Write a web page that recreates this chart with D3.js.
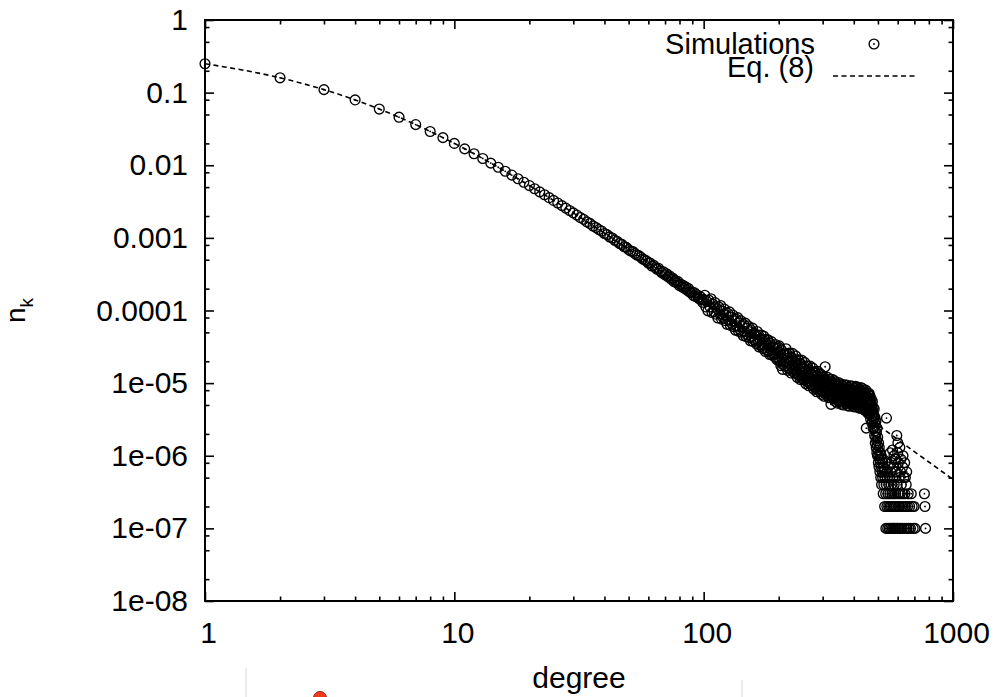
<!DOCTYPE html>
<html>
<head>
<meta charset="utf-8">
<script src="https://cdn.jsdelivr.net/npm/d3@7"></script>
<style>
  body { margin: 0; background: #fff; }
  svg { display: block; }
  text { font-family: "Liberation Sans", Arial, Helvetica, sans-serif; }
</style>
</head>
<body>
<div id="chart"></div>
<script>
// Degree distribution n_k: simulations vs Eq. (8), log-log

const width = 995, height = 697;
const margin = { top: 20, right: 42, bottom: 96, left: 205 };

// simulated n_k, one value per degree starting at k = 1
const simStartDegree = 1;
const simShare = [
  0.250, 0.160, 0.110, 0.0794, 0.0594, 0.0459, 0.0363, 0.0292, 0.0240, 0.0200,
  0.0168, 0.0144, 0.0124, 0.0107, 0.00938, 0.00826, 0.00732, 0.00652, 0.00584, 0.00525,
  0.00474, 0.00430, 0.00392, 0.00358, 0.00328, 0.00302, 0.00278, 0.00257, 0.00238, 0.00221,
  0.00206, 0.00191, 0.00180, 0.00166, 0.00158, 0.00146, 0.00139, 0.00130, 0.00124, 0.00115,
  0.00111, 0.00103, 0.000995, 0.000925, 0.000895, 0.000835, 0.000812, 0.000755, 0.000740, 0.000688,
  6.6e-4, 6.5e-4, 6.1e-4, 5.8e-4, 5.7e-4, 5.4e-4, 5.1e-4, 5.0e-4, 4.8e-4, 4.5e-4,
  4.5e-4, 4.1e-4, 4.2e-4, 3.9e-4, 3.7e-4, 3.8e-4, 3.5e-4, 3.3e-4, 3.4e-4, 3.1e-4,
  3.2e-4, 2.9e-4, 3.0e-4, 2.7e-4, 2.8e-4, 2.5e-4, 2.6e-4, 2.4e-4, 2.5e-4, 2.2e-4,
  2.3e-4, 2.1e-4, 2.2e-4, 2.0e-4, 2.1e-4, 1.9e-4, 2.0e-4, 1.8e-4, 1.75e-4, 1.8e-4,
  1.6e-4, 1.75e-4, 1.55e-4, 1.65e-4, 1.5e-4, 1.45e-4, 1.55e-4, 1.4e-4, 1.3e-4, 1.42e-4,
  1.62e-4, 1.12e-4, 1.33e-4, 9.9e-5, 1.39e-4, 1.12e-4, 1.45e-4, 9.4e-5, 1.22e-4, 9.7e-5,
  1.29e-4, 8.9e-5, 1.06e-4, 7.9e-5, 1.12e-4, 9.0e-5, 1.17e-4, 7.6e-5, 9.8e-5, 7.9e-5,
  1.05e-4, 7.25e-5, 8.67e-5, 6.48e-5, 9.14e-5, 7.41e-5, 9.56e-5, 6.23e-5, 8.1e-5, 6.5e-5,
  8.65e-5, 5.99e-5, 7.18e-5, 5.38e-5, 7.59e-5, 6.16e-5, 7.96e-5, 5.19e-5, 6.75e-5, 5.43e-5,
  7.23e-5, 5.01e-5, 6.03e-5, 4.51e-5, 6.38e-5, 5.18e-5, 6.7e-5, 4.37e-5, 5.71e-5, 4.59e-5,
  6.12e-5, 4.25e-5, 5.1e-5, 3.83e-5, 5.42e-5, 4.41e-5, 5.71e-5, 3.74e-5, 4.87e-5, 3.92e-5,
  3.87e-5, 4.65e-5, 3.46e-5, 5.14e-5, 3.85e-5, 4.59e-5, 3.14e-5, 4.06e-5, 3.29e-5, 4.59e-5,
  3.34e-5, 4.03e-5, 3.0e-5, 4.45e-5, 3.33e-5, 3.98e-5, 2.73e-5, 3.53e-5, 2.86e-5, 3.99e-5,
  3.94e-5, 2.74e-5, 3.3e-5, 2.48e-5, 3.52e-5, 2.87e-5, 3.73e-5, 2.44e-5, 3.19e-5, 2.57e-5,
  2.54e-5, 3.07e-5, 2.28e-5, 3.4e-5, 2.55e-5, 3.05e-5, 2.1e-5, 2.72e-5, 2.2e-5, 3.09e-5,
  3.25e-5, 1.98e-5, 2.64e-5, 1.74e-5, 2.87e-5, 2.19e-5, 1.55e-5, 1.8e-5, 2.55e-5, 1.94e-5,
  1.92e-5, 2.46e-5, 1.7e-5, 2.97e-5, 1.98e-5, 2.52e-5, 1.5e-5, 2.21e-5, 1.62e-5, 2.6e-5,
  2.57e-5, 1.57e-5, 2.1e-5, 1.38e-5, 2.28e-5, 1.75e-5, 2.57e-5, 1.44e-5, 2.04e-5, 1.55e-5,
  1.53e-5, 1.97e-5, 1.36e-5, 2.37e-5, 1.58e-5, 2.03e-5, 1.2e-5, 1.78e-5, 1.3e-5, 2.1e-5,
  2.08e-5, 1.26e-5, 1.69e-5, 1.12e-5, 1.84e-5, 1.41e-5, 2.08e-5, 1.16e-5, 1.65e-5, 1.26e-5,
  1.24e-5, 1.6e-5, 1.1e-5, 1.93e-5, 1.29e-5, 1.65e-5, 9.8e-6, 1.46e-5, 1.07e-5, 1.73e-5,
  1.71e-5, 1.04e-5, 1.39e-5, 9.2e-6, 1.52e-5, 1.17e-5, 1.72e-5, 9.6e-6, 1.37e-5, 1.04e-5,
  1.03e-5, 1.33e-5, 9.2e-6, 1.61e-5, 1.08e-5, 1.38e-5, 8.2e-6, 1.22e-5, 8.9e-6, 1.44e-5,
  1.37e-5, 8.4e-6, 1.13e-5, 7.6e-6, 1.26e-5, 9.8e-6, 1.45e-5, 8.2e-6, 1.18e-5, 9.0e-6,
  8.3e-6, 1.09e-5, 7.6e-6, 1.34e-5, 9.0e-6, 1.16e-5, 7.0e-6, 1.05e-5, 7.8e-6, 1.26e-5,
  1.2e-5, 7.4e-6, 9.9e-6, 6.6e-6, 1.1e-5, 8.6e-6, 1.68e-5, 7.2e-6, 1.03e-5, 7.9e-6,
  7.5e-6, 9.7e-6, 6.8e-6, 1.2e-5, 8.1e-6, 1.04e-5, 6.3e-6, 9.4e-6, 7.0e-6, 1.13e-5,
  1.07e-5, 6.6e-6, 8.9e-6, 5.1e-6, 9.8e-6, 7.6e-6, 1.13e-5, 6.4e-6, 9.2e-6, 7.1e-6,
  6.7e-6, 8.7e-6, 6.1e-6, 1.08e-5, 7.3e-6, 9.4e-6, 5.6e-6, 8.4e-6, 6.2e-6, 1.01e-5,
  9.6e-6, 5.9e-6, 8.0e-6, 5.3e-6, 8.9e-6, 6.9e-6, 1.02e-5, 5.8e-6, 8.3e-6, 6.4e-6,
  6.1e-6, 8.0e-6, 5.5e-6, 9.8e-6, 6.6e-6, 8.5e-6, 5.1e-6, 7.7e-6, 5.7e-6, 9.2e-6,
  9.0e-6, 5.5e-6, 7.5e-6, 5.0e-6, 8.3e-6, 6.4e-6, 9.5e-6, 5.4e-6, 7.7e-6, 5.9e-6,
  5.8e-6, 7.6e-6, 5.3e-6, 9.4e-6, 6.3e-6, 8.2e-6, 4.9e-6, 7.3e-6, 5.4e-6, 8.8e-6,
  8.7e-6, 5.4e-6, 7.2e-6, 4.8e-6, 8.0e-6, 6.2e-6, 9.2e-6, 5.2e-6, 7.5e-6, 5.8e-6,
  5.7e-6, 7.4e-6, 5.1e-6, 9.1e-6, 6.1e-6, 7.9e-6, 4.8e-6, 7.1e-6, 5.3e-6, 8.6e-6,
  8.5e-6, 5.2e-6, 7.0e-6, 4.7e-6, 7.8e-6, 6.0e-6, 9.0e-6, 5.1e-6, 7.3e-6, 5.6e-6,
  5.5e-6, 7.2e-6, 5.0e-6, 8.8e-6, 6.0e-6, 7.7e-6, 4.6e-6, 6.9e-6, 5.1e-6, 8.3e-6,
  8.2e-6, 5.0e-6, 6.8e-6, 4.5e-6, 7.6e-6, 5.9e-6, 8.7e-6, 4.9e-6, 7.1e-6, 5.4e-6,
  5.2e-6, 6.8e-6, 4.8e-6, 8.4e-6, 5.7e-6, 7.3e-6, 4.4e-6, 6.6e-6, 4.9e-6, 7.9e-6,
  7.5e-6, 4.6e-6, 6.3e-6, 4.2e-6, 7.0e-6, 5.4e-6, 8.0e-6, 4.5e-6, 2.4e-6, 5.0e-6,
  4.6e-6, 5.9e-6, 4.1e-6, 7.3e-6, 4.9e-6, 6.4e-6, 3.8e-6, 5.7e-6, 4.2e-6, 6.9e-6,
  7.2e-6, 4.5e-6, 5.8e-6, 3.8e-6, 6.6e-6, 5.0e-6, 3.2e-6, 5.5e-6, 4.2e-6, 6.0e-6,
  3.5e-6, 5.0e-6, 2.8e-6, 4.4e-6, 5.6e-6, 3.0e-6, 4.0e-6, 2.4e-6, 4.6e-6, 3.3e-6
];

// sparse tail of the simulation (degrees with non-zero counts)
const tailDegree = [
  481, 482, 483, 484, 485, 486, 487, 488, 489, 490, 491, 492, 493, 494, 495, 496, 497, 498, 499, 500,
  502, 503, 504, 505, 506, 508, 509, 510, 511, 513, 514, 516, 517, 519, 520, 522, 523, 525, 527, 528,
  530, 532, 533, 535, 537, 538, 540, 541, 542, 543, 545, 547, 548, 550, 552, 553, 555, 557, 558, 560,
  562, 563, 565, 567, 569, 571, 573, 575, 577, 579, 581, 583, 585, 587, 589, 591, 593, 595, 597, 599,
  601, 603, 605, 607, 609, 611, 612, 614, 617, 620, 623, 626, 629, 632, 635, 638, 641, 645, 649, 653,
  657, 661, 665, 670, 675, 680, 686, 692, 698, 704, 768, 772, 776,
  566, 578, 584, 594, 604, 616, 628, 644, 652, 560, 572, 580, 590, 600, 618, 630, 640
];
const tailShare = [
  3.6e-6, 2.4e-6, 4.4e-6, 2.9e-6, 1.9e-6, 3.4e-6, 2.2e-6, 1.5e-6, 2.7e-6, 1.8e-6, 3.0e-6, 1.3e-6, 2.1e-6, 1.6e-6, 1.1e-6, 2.4e-6, 1.4e-6, 1.0e-6, 1.8e-6, 1.2e-6,
  8e-7, 1.5e-6, 1.0e-6, 7e-7, 1.3e-6, 9e-7, 6e-7, 1.1e-6, 8e-7, 5e-7, 1.0e-6, 7e-7, 4e-7, 9e-7, 6e-7, 5e-7, 8e-7, 3e-7, 7e-7, 4e-7,
  6e-7, 2e-7, 5e-7, 8e-7, 3e-7, 1e-7, 4e-7, 3.3e-6, 6e-7, 2e-7, 5e-7, 1e-7, 3e-7, 7e-7, 2e-7, 4e-7, 1e-7, 5e-7, 3e-7, 2e-7,
  6e-7, 1e-7, 4e-7, 2e-7, 3e-7, 1e-7, 5e-7, 2e-7, 1e-7, 3e-7, 4e-7, 1e-7, 2e-7, 6e-7, 3e-7, 1e-7, 2e-7, 1.9e-6, 4e-7, 1e-7,
  1.5e-6, 3e-7, 2e-7, 1e-7, 5e-7, 2e-7, 1.3e-6, 3e-7, 1e-7, 4e-7, 2e-7, 1e-7, 3e-7, 2e-7, 5e-7, 1e-7, 3e-7, 2e-7, 4e-7, 1e-7,
  2e-7, 3e-7, 1e-7, 2e-7, 1e-7, 3e-7, 2e-7, 1e-7, 2e-7, 1e-7, 3e-7, 2e-7, 1e-7,
  8e-7, 7e-7, 9e-7, 6e-7, 8e-7, 6e-7, 7e-7, 5e-7, 6e-7, 1.1e-6, 1.2e-6, 1.0e-6, 9e-7, 1.1e-6, 9e-7, 1.0e-6, 8e-7
];

// Eq. (8)
const eqDegree = [1, 2, 3, 4, 5, 6, 7, 8, 9, 10, 12, 15, 20, 25, 30, 40, 50, 60, 70, 80,
  100, 120, 150, 200, 250, 300, 400, 500, 600, 700, 800, 1000];
const eqShare = [0.250, 0.160, 0.110, 0.0794, 0.0594, 0.0459, 0.0363, 0.0292, 0.0240, 0.0200,
  0.0144, 0.00938, 0.00525, 0.00328, 0.00221, 0.00116, 0.000697, 0.000457, 0.000318, 0.000232,
  1.36e-4, 8.76e-5, 5.10e-5, 2.53e-5, 1.46e-5, 9.33e-6, 4.58e-6, 2.64e-6, 1.68e-6, 1.14e-6, 8.2e-7, 4.7e-7];

// axes
const xTicks = [1, 10, 100, 1000];
const xTickLabels = ["1", "10", "100", "1000"];
const xMinorSteps = [2, 3, 4, 5, 6, 7, 8, 9];
const yTicks = [1e-8, 1e-7, 1e-6, 1e-5, 1e-4, 1e-3, 1e-2, 1e-1, 1];
const yTickLabels = ["1e-08", "1e-07", "1e-06", "1e-05", "0.0001", "0.001", "0.01", "0.1", "1"];
const yMinorSteps = [2, 5, 8];

const svg = d3.select("#chart")
  .append("svg")
  .attr("width", width)
  .attr("height", height)
  .attr("viewBox", [0, 0, width, height]);

svg.append("rect").attr("width", width).attr("height", height).attr("fill", "#fff");

const x = d3.scaleLog()
  .domain([1, 1000])
  .range([margin.left, width - margin.right]);

const y = d3.scaleLog()
  .domain([1e-8, 1])
  .range([height - margin.bottom, margin.top]);

const x0 = x.range()[0], x1 = x.range()[1];
const yTop = y.range()[1], yBot = y.range()[0];

// join the two simulation pieces
const sim = simShare.map((v, i) => ({ k: simStartDegree + i, n: v }))
  .concat(tailDegree.map((k, i) => ({ k: k, n: tailShare[i] })))
  .filter(d => d.n > 0);

const eq = eqDegree.map((k, i) => ({ k: k, n: eqShare[i] }));

const xMinor = xTicks.slice(0, -1).flatMap(d => xMinorSteps.map(s => d * s));
const yMinor = yTicks.slice(0, -1).flatMap(d => yMinorSteps.map(s => d * s));

// ticks, drawn inward on all four sides
function tickAxis(axisFn, scale, values, size, pos) {
  const g = svg.append("g")
    .attr("transform", pos)
    .call(axisFn(scale).tickValues(values).tickSize(-size).tickSizeOuter(0).tickFormat(""));
  g.select(".domain").remove();
  g.selectAll("line").attr("stroke", "#000").attr("stroke-width", 1.6);
  return g;
}

tickAxis(d3.axisBottom, x, xMinor, 4.5, `translate(0,${yBot})`);
tickAxis(d3.axisTop, x, xMinor, 4.5, `translate(0,${yTop})`);
tickAxis(d3.axisLeft, y, yMinor, 4.5, `translate(${x0},0)`);
tickAxis(d3.axisRight, y, yMinor, 4.5, `translate(${x1},0)`);
tickAxis(d3.axisTop, x, xTicks, 9, `translate(0,${yTop})`);
tickAxis(d3.axisRight, y, yTicks, 9, `translate(${x1},0)`);

const xAxis = svg.append("g")
  .attr("transform", `translate(0,${yBot})`)
  .call(d3.axisBottom(x).tickValues(xTicks).tickSize(-9).tickSizeOuter(0).tickPadding(21)
    .tickFormat((d, i) => xTickLabels[i]));
xAxis.select(".domain").remove();
xAxis.selectAll("line").attr("stroke", "#000").attr("stroke-width", 1.6);
xAxis.selectAll("text")
  .attr("dx", 3)
  .attr("fill", "#000")
  .style("font-family", "'Liberation Sans', Arial, Helvetica, sans-serif")
  .style("font-size", "30px");

const yAxis = svg.append("g")
  .attr("transform", `translate(${x0},0)`)
  .call(d3.axisLeft(y).tickValues(yTicks).tickSize(-9).tickSizeOuter(0).tickPadding(17)
    .tickFormat((d, i) => yTickLabels[i]));
yAxis.select(".domain").remove();
yAxis.selectAll("line").attr("stroke", "#000").attr("stroke-width", 1.6);
yAxis.selectAll("text")
  .attr("dy", "0.32em")
  .attr("fill", "#000")
  .style("font-family", "'Liberation Sans', Arial, Helvetica, sans-serif")
  .style("font-size", "30px");

// Eq. (8) dashed curve
const line = d3.line()
  .x(d => x(d.k))
  .y(d => y(d.n))
  .curve(d3.curveMonotoneX);

svg.append("path")
  .datum(eq)
  .attr("d", line)
  .attr("fill", "none")
  .attr("stroke", "#000")
  .attr("stroke-width", 1.6)
  .attr("stroke-dasharray", "5,3.5");

// simulation markers: open circle with a dot
function marker(sel) {
  sel.append("circle")
    .attr("r", 4.9)
    .attr("fill", "none")
    .attr("stroke", "#000")
    .attr("stroke-width", 1.35);
  sel.append("circle")
    .attr("r", 0.9)
    .attr("fill", "#000");
}

svg.append("g")
  .selectAll("g")
  .data(sim)
  .join("g")
  .attr("transform", d => `translate(${x(d.k)},${y(d.n)})`)
  .call(marker);

// frame
svg.append("rect")
  .attr("x", x0)
  .attr("y", yTop)
  .attr("width", x1 - x0)
  .attr("height", yBot - yTop)
  .attr("fill", "none")
  .attr("stroke", "#000")
  .attr("stroke-width", 2);

// legend
const legend = svg.append("g")
  .attr("font-size", 29)
  .attr("fill", "#000");

legend.append("text")
  .attr("x", 815)
  .attr("y", 54)
  .attr("text-anchor", "end")
  .text("Simulations");

legend.append("g")
  .attr("transform", "translate(874,44)")
  .call(marker);

legend.append("text")
  .attr("x", 814)
  .attr("y", 77)
  .attr("text-anchor", "end")
  .text("Eq. (8)");

legend.append("line")
  .attr("x1", 833)
  .attr("x2", 916)
  .attr("y1", 76)
  .attr("y2", 76)
  .attr("stroke", "#000")
  .attr("stroke-width", 1.6)
  .attr("stroke-dasharray", "5,3.5");

// axis titles
svg.append("text")
  .attr("x", (x0 + x1) / 2)
  .attr("y", 688)
  .attr("text-anchor", "middle")
  .attr("font-size", 30)
  .text("degree");

const yTitle = svg.append("text")
  .attr("transform", `translate(25,${(yTop + yBot) / 2}) rotate(-90)`)
  .attr("text-anchor", "middle")
  .attr("font-size", 28);
yTitle.append("tspan").text("n");
yTitle.append("tspan").attr("font-size", 19).attr("dy", 8).text("k");

// bits of the page below the figure
svg.append("line")
  .attr("x1", 246).attr("x2", 246).attr("y1", 668).attr("y2", height)
  .attr("stroke", "#d8d8d8").attr("stroke-width", 1);
svg.append("line")
  .attr("x1", 742).attr("x2", 742).attr("y1", 680).attr("y2", height)
  .attr("stroke", "#d8d8d8").attr("stroke-width", 1);
svg.append("circle")
  .attr("cx", 320).attr("cy", 698).attr("r", 6.5)
  .attr("fill", "#f03a1c").attr("stroke", "#9a2010").attr("stroke-width", 1);
</script>
</body>
</html>
